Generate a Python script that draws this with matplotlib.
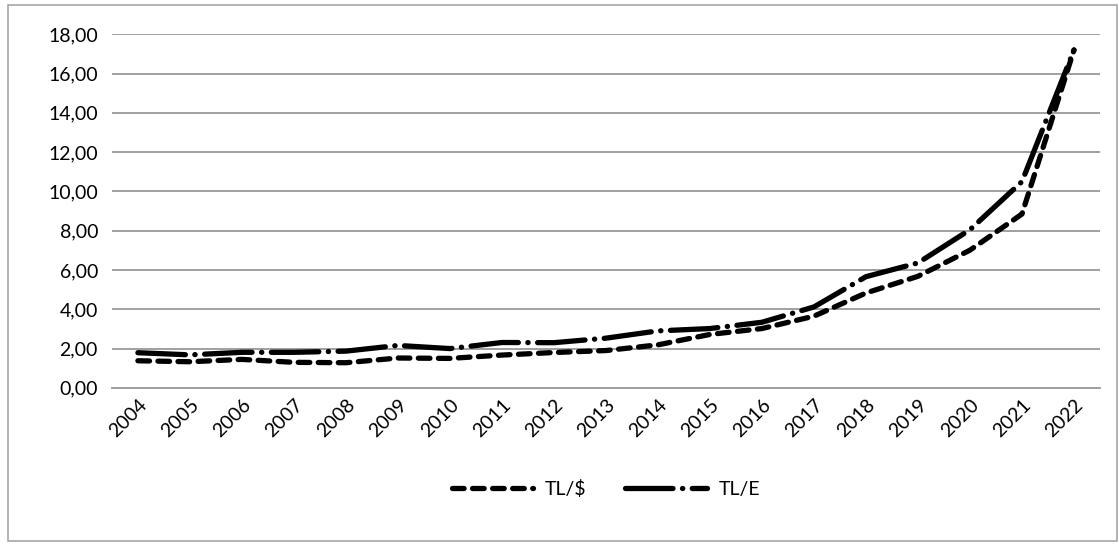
import matplotlib.pyplot as plt
from matplotlib.patches import Rectangle

plt.rcParams['font.family'] = ['Lato', 'DejaVu Sans']

years = [str(y) for y in range(2004, 2023)]
tl_usd = [1.38, 1.33, 1.45, 1.30, 1.28, 1.52, 1.50, 1.67, 1.80, 1.90,
          2.19, 2.72, 3.02, 3.65, 4.83, 5.68, 7.01, 8.85, 17.2]
tl_eur = [1.79, 1.68, 1.81, 1.81, 1.87, 2.16, 2.00, 2.31, 2.30, 2.53,
          2.90, 3.02, 3.34, 4.12, 5.66, 6.36, 8.05, 10.5, 17.2]
yticks = [0, 2, 4, 6, 8, 10, 12, 14, 16, 18]

fig = plt.figure(figsize=(11.19, 5.44), dpi=100)
fig.patches.append(Rectangle((8 / 1119, 0.005), 1 - 10 / 1119, 1 - 5 / 544 - 0.005,
                             transform=fig.transFigure, fill=False,
                             edgecolor='#a6a6a6', lw=1.2))
ax = fig.add_axes([0.100, 0.287, 0.883, 0.650])

x = range(len(years))
ax.plot(x, tl_usd, color='black', lw=3.8, linestyle=(0, (2.2, 1.6)),
        dash_capstyle='round', label='TL/$')
ax.plot(x, tl_eur, color='black', lw=3.8, linestyle=(0, (9, 1.8, 0.05, 1.8)),
        dash_capstyle='round', label='TL/E')

ax.set_ylim(0, 18)
ax.set_xlim(-0.5, len(years) - 0.5)
ax.set_yticks(yticks)
ax.set_yticklabels([f'{v:.2f}'.replace('.', ',') for v in yticks], fontsize=14)
ax.set_xticks(list(x))
ax.set_xticklabels(years, rotation=45, ha='right', rotation_mode='anchor', fontsize=14)
ax.tick_params(axis='y', length=0, pad=10)
ax.tick_params(axis='x', length=0, pad=6)
ax.grid(axis='y', color='#a0a0a0', lw=1.4)
ax.set_axisbelow(True)
for s in ['top', 'right', 'left']:
    ax.spines[s].set_visible(False)
ax.spines['bottom'].set_color('#a0a0a0')
ax.spines['bottom'].set_linewidth(1.4)

ax.legend(loc='center', bbox_to_anchor=(0.5, -0.286), ncol=2, frameon=False,
          fontsize=14, handlelength=4.2, handletextpad=0.6, columnspacing=2.0)

fig.savefig('out.png', dpi=100)
